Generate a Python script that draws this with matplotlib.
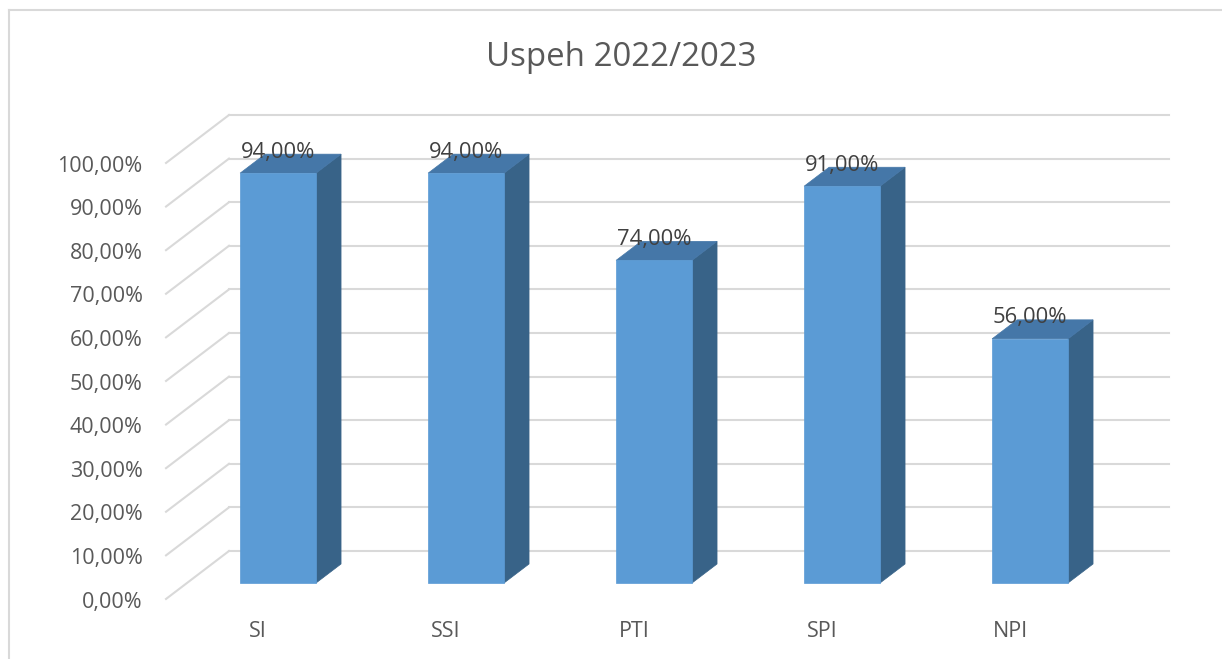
import numpy as np
import matplotlib
matplotlib.use("Agg")
import matplotlib.pyplot as plt
from matplotlib.patches import Polygon
from matplotlib.lines import Line2D

plt.rcParams['font.family'] = ['Open Sans', 'DejaVu Sans']

# data
categories = ["SI", "SSI", "PTI", "SPI", "NPI"]
values = [94.0, 94.0, 74.0, 91.0, 56.0]
ticks = [0, 10, 20, 30, 40, 50, 60, 70, 80, 90, 100]
title = "Uspeh 2022/2023"

# look of the excel 3d column chart
front_col = "#5b9bd5"
side_col = "#386388"
top_col = "#4577a8"
grid_col = "#d9d9d9"
txt_col = "#595959"

W, H = 1222, 659
fig = plt.figure(figsize=(W / 100, H / 100), dpi=100)
ax = fig.add_axes([229 / W, (H - 551) / H, 940 / W, 436 / H])
ax.set_xlim(0, len(categories))
ax.set_ylim(0, 100)
ax.axis("off")

# depth offsets (category units, percent units)
wall_dx, wall_dy = -0.335, -11.0     # back wall -> front of floor
front_dx, front_dy = -0.239, -7.34   # back wall -> bar front face
back_dx, back_dy = -0.106, -2.98     # back wall -> bar back face
bw = 0.404

# gridlines on back wall + left wall
for t in ticks:
    ax.plot([0, len(categories)], [t, t], color=grid_col, lw=1.5, zorder=1, clip_on=False)
    ax.plot([0, wall_dx], [t, t + wall_dy], color=grid_col, lw=1.5, zorder=1, clip_on=False)
    ax.text(wall_dx - 0.125, t + wall_dy - 0.7, f"{t:.2f}%".replace(".", ","), ha="right", va="center",
            fontsize=15.5, color=txt_col)

for i, (c, v) in enumerate(zip(categories, values)):
    xc = i + 0.5
    x0f, x1f = xc - bw / 2 + front_dx, xc + bw / 2 + front_dx
    x0b, x1b = xc - bw / 2 + back_dx, xc + bw / 2 + back_dx
    yf0, yf1 = front_dy, v + front_dy
    yb0, yb1 = back_dy, v + back_dy
    side = Polygon([(x1f, yf0), (x1b, yb0), (x1b, yb1), (x1f, yf1)], closed=True,
                   facecolor=side_col, edgecolor=side_col, lw=0.5, zorder=3, clip_on=False)
    top = Polygon([(x0f, yf1), (x1f, yf1), (x1b, yb1), (x0b, yb1)], closed=True,
                  facecolor=top_col, edgecolor=top_col, lw=0.5, zorder=3, clip_on=False)
    front = Polygon([(x0f, yf0), (x1f, yf0), (x1f, yf1), (x0f, yf1)], closed=True,
                    facecolor=front_col, edgecolor=front_col, lw=0.5, zorder=4, clip_on=False)
    ax.add_patch(side)
    ax.add_patch(top)
    ax.add_patch(front)
    ax.text(xc + front_dx, yf1 + 4.8, f"{v:.2f}%".replace(".", ","), ha="center", va="center",
            fontsize=15.8, color="#404040", zorder=5)
    ax.text(xc + wall_dx - 0.01, -18.5, c, ha="center", va="center", fontsize=15.5, color=txt_col)

fig.text(621 / W, 1 - 57 / H, title, ha="center", va="center", fontsize=23.8, color=txt_col)

# chart area border (top and left visible)
fig.add_artist(Line2D([9 / W, 1], [1 - 10 / H, 1 - 10 / H], color=grid_col, lw=1.5))
fig.add_artist(Line2D([9 / W, 9 / W], [0, 1 - 10 / H], color=grid_col, lw=1.5))

fig.savefig("out.png", dpi=100, facecolor="white")
